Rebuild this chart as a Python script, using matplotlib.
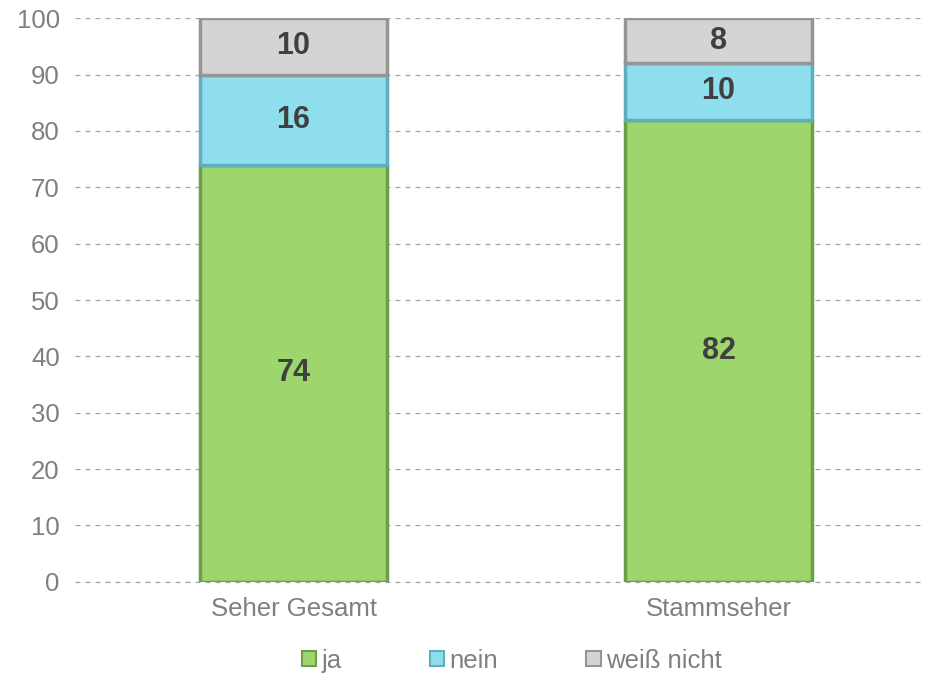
import numpy as np
import matplotlib
matplotlib.use("Agg")
from matplotlib import pyplot as plt

plt.rcParams['font.family'] = ['Liberation Sans', 'DejaVu Sans']

categories = ["Seher Gesamt", "Stammseher"]
series = ["ja", "nein", "weiß nicht"]
ja = [74, 82]
nein = [16, 10]
weiss = [10, 8]
yticks = [0, 10, 20, 30, 40, 50, 60, 70, 80, 90, 100]

colors = ["#9dd66c", "#8fdeee", "#d4d4d4"]
edges = ["#6f9e48", "#5fadbd", "#959595"]

fig = plt.figure(figsize=(9.27, 6.75), dpi=100)
ax = fig.add_axes([0.081, 0.138, 0.917, 0.835])

x = np.arange(len(categories))
bottom = np.zeros(len(categories))
for vals, name, c, ec in zip([ja, nein, weiss], series, colors, edges):
    ax.bar(x, vals, 0.44, bottom=bottom, color=c, edgecolor=ec, linewidth=2.5,
           label=name, zorder=3)
    for xi, v, b in zip(x, vals, bottom):
        ax.text(xi, b + v / 2, str(v), ha="center", va="center", fontsize=22,
                fontweight="bold", color="#404040", zorder=4)
    bottom += vals

ax.set_ylim(0, 100)
ax.set_xlim(-0.514, 1.486)
ax.set_yticks(yticks)
ax.set_xticks(x)
ax.set_xticklabels(categories)
ax.tick_params(axis="both", length=0, colors="#7f7f7f", labelsize=18.5)
ax.tick_params(axis="y", pad=11)
ax.tick_params(axis="x", pad=11)
for s in ax.spines.values():
    s.set_visible(False)
ax.yaxis.grid(True, linestyle=(0, (4, 4)), color="#a6a6a6", linewidth=0.9, zorder=0)
ax.axhline(0, linestyle=(0, (4, 4)), color="#a6a6a6", linewidth=0.9, zorder=2, clip_on=False)
ax.set_axisbelow(True)

handles, labels = ax.get_legend_handles_labels()
leg = fig.legend(handles, labels, loc="center", bbox_to_anchor=(0.552, 0.021), ncol=3,
                 frameon=False, fontsize=18.5, handlelength=0.55, handleheight=0.55,
                 handletextpad=0.2, columnspacing=3.45, borderpad=0)
for t in leg.get_texts():
    t.set_color("#7f7f7f")
for h in leg.legend_handles:
    h.set_linewidth(1.5)

fig.savefig("out.png", dpi=100)
